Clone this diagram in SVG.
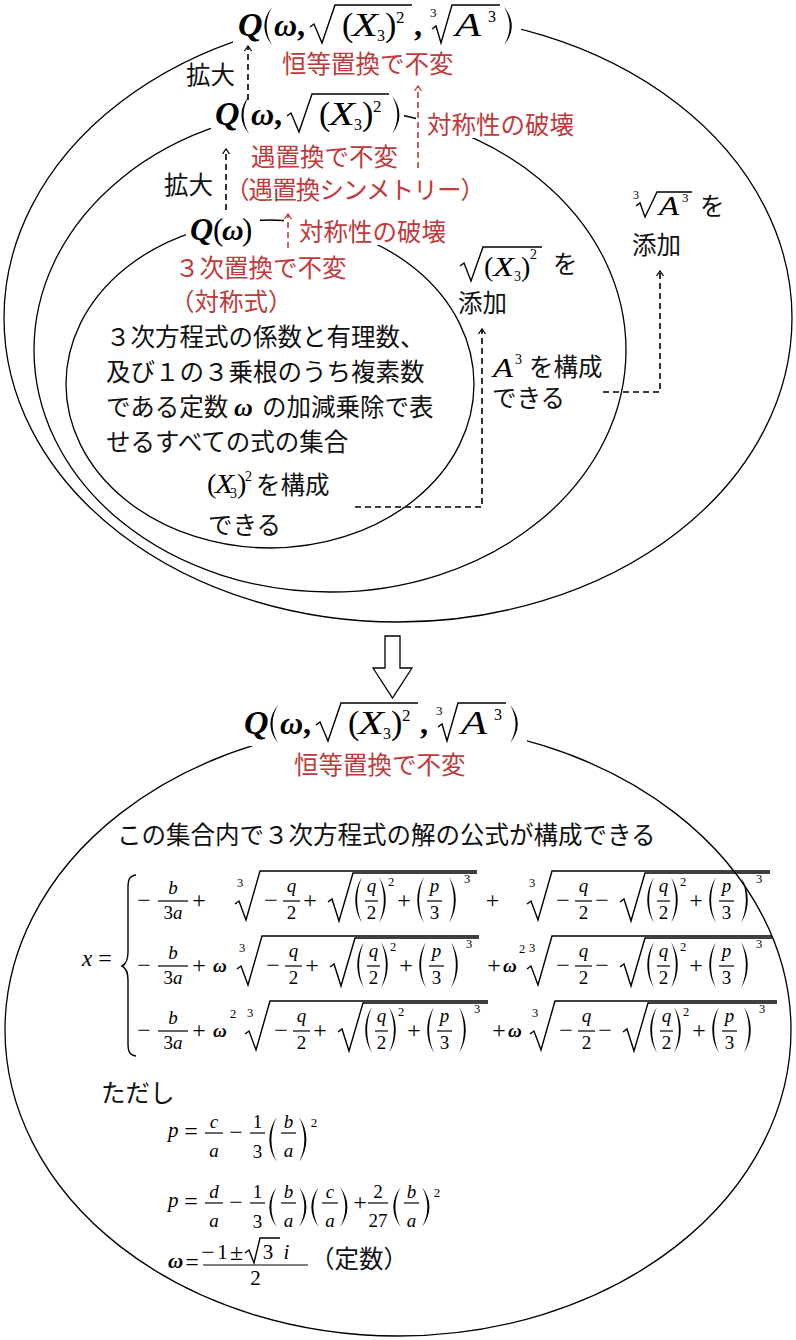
<svg xmlns="http://www.w3.org/2000/svg" width="796" height="1340" viewBox="0 0 796 1340">
<style>
.m{font-family:'Liberation Serif',serif;fill:#000}
.i{font-style:italic}
.b{font-weight:bold;font-style:italic}
.c{text-anchor:middle}
.j{font-family:'Liberation Sans','Noto Sans CJK JP',sans-serif;fill:#111;font-size:24.5px}
.r{fill:#c0393b}
.ln{fill:none;stroke:#000;stroke-width:1.4}
.bar{stroke:#000;stroke-width:1.2}
.ell{fill:none;stroke:#000;stroke-width:1.3}
.bg{fill:#fff}
.dk{fill:none;stroke:#000;stroke-width:1.6;stroke-dasharray:6 4}
.dr{fill:none;stroke:#c0393b;stroke-width:1.6;stroke-dasharray:6 4}
.f18{font-size:19px}
.op{font-size:24px}
.s11{font-size:12.5px}
.s12{font-size:13px}
</style>
<defs>
<path id="lp" d="M8,0 C-1,14 -1,32 8,46 C1.5,32 1.5,14 8,0Z" fill="#000"/>
<path id="rp" d="M0,0 C9,14 9,32 0,46 C6.5,32 6.5,14 0,0Z" fill="#000"/>
<marker id="ak" viewBox="-7 -5 8 10" refX="0" refY="0" markerWidth="8" markerHeight="10" markerUnits="userSpaceOnUse" orient="auto"><path d="M-5,-3.5 L0,0 L-5,3.5" fill="none" stroke="#000" stroke-width="1.3"/></marker>
<marker id="ar" viewBox="-7 -5 8 10" refX="0" refY="0" markerWidth="8" markerHeight="10" markerUnits="userSpaceOnUse" orient="auto"><path d="M-5,-3.5 L0,0 L-5,3.5" fill="none" stroke="#c0393b" stroke-width="1.3"/></marker>
</defs>
<rect width="796" height="1340" fill="#fff"/>

<g id="sets">
<ellipse class="ell" cx="398" cy="318" rx="394" ry="304"/>
<ellipse class="ell" cx="330" cy="350" rx="296" ry="242"/>
<ellipse class="ell" cx="270" cy="384" rx="204" ry="164"/>
<ellipse class="ell" cx="398" cy="1030" rx="393" ry="306"/>
</g>

<g id="n-field3">
<rect class="bg" x="233" y="0" width="288" height="48"/>
<text class="m b" x="238" y="36" font-size="34">Q</text>
<use href="#lp" transform="translate(263,7) scale(1.15,0.826)"/>
<text class="m b" x="274" y="36" font-size="32">ω</text>
<text class="m" font-weight="bold" x="297" y="36" font-size="32">,</text>
<path class="ln" d="M310,27 L314,24 L322,43 L335,5 H412"/>
<text class="m" x="342" y="36" font-size="34">(</text>
<text class="m i" x="352" y="36" font-size="34" textLength="26" lengthAdjust="spacingAndGlyphs">X</text>
<text class="m" x="377" y="41" font-size="16">3</text>
<text class="m" x="385" y="36" font-size="34">)</text>
<text class="m" x="396" y="23" font-size="17">2</text>
<text class="m" font-weight="bold" x="414" y="36" font-size="32">,</text>
<text class="m" x="430" y="17" font-size="13">3</text>
<path class="ln" d="M432,29 L436,26 L441,43 L452,5 H500"/>
<text class="m i" x="455" y="36" font-size="34" textLength="26" lengthAdjust="spacingAndGlyphs">A</text>
<text class="m" x="488" y="22" font-size="16">3</text>
<use href="#rp" transform="translate(504,7) scale(1.15,0.826)"/>
</g>

<g id="n-inv3">
<text class="j r" x="282" y="73">恒等置換で不変</text>
</g>
<g id="n-ext1"><text class="j" x="186" y="84" font-size="21">拡大</text></g>
<g id="n-break1">
<rect class="bg" x="416" y="111" width="162" height="27"/>
<text class="j r" x="427" y="134">対称性の破壊</text>
</g>

<g id="n-field2">
<rect class="bg" x="211" y="94" width="193" height="46"/>
<g transform="translate(-23,89)">
<text class="m b" x="238" y="36" font-size="34">Q</text>
<use href="#lp" transform="translate(263,7) scale(1.15,0.826)"/>
<text class="m b" x="274" y="36" font-size="32">ω</text>
<text class="m" font-weight="bold" x="297" y="36" font-size="32">,</text>
<path class="ln" d="M310,27 L314,24 L322,43 L335,5 H412"/>
<text class="m" x="342" y="36" font-size="34">(</text>
<text class="m i" x="352" y="36" font-size="34" textLength="26" lengthAdjust="spacingAndGlyphs">X</text>
<text class="m" x="377" y="41" font-size="16">3</text>
<text class="m" x="385" y="36" font-size="34">)</text>
<text class="m" x="396" y="23" font-size="17">2</text>
</g>
<use href="#rp" transform="translate(392,96) scale(1.1,0.826)"/>
</g>

<g id="n-inv2">
<text class="j r" x="251" y="166">遇置換で不変</text>
<text class="j r" x="225" y="199" textLength="260">（遇置換シンメトリー）</text>
</g>
<g id="n-ext2"><text class="j" x="164" y="194" font-size="22">拡大</text></g>

<g id="n-field1">
<rect class="bg" x="186" y="212" width="74" height="37"/>
<text class="m b" x="190" y="240" font-size="32">Q</text>
<text class="m" x="213" y="240" font-size="31">(</text>
<text class="m b" x="222" y="240" font-size="30">ω</text>
<text class="m" x="242" y="240" font-size="31">)</text>
</g>
<g id="n-break2">
<rect class="bg" x="284" y="206" width="165" height="39"/>
<text class="j r" x="299" y="241">対称性の破壊</text>
</g>
<g id="n-inv1">
<text class="j r" x="175" y="277">３次置換で不変</text>
<text class="j r" x="170" y="311">（対称式）</text>
</g>
<g id="n-desc">
<text class="j" x="106" y="346">３次方程式の係数と有理数、</text>
<text class="j" x="106" y="381">及び１の３乗根のうち複素数</text>
<text class="j" x="106" y="416">である定数<tspan class="m b" x="234" font-size="26">ω</tspan><tspan x="262">の加減乗除で表</tspan></text>
<text class="j" x="106" y="451">せるすべての式の集合</text>
</g>
<g id="n-x3sq">
<text class="m" x="207" y="493" font-size="28">(</text>
<text class="m i" x="215" y="493" font-size="28" textLength="19" lengthAdjust="spacingAndGlyphs">X</text>
<text class="m" x="230" y="498" font-size="14">3</text>
<text class="m" x="237" y="493" font-size="28">)</text>
<text class="m" x="245" y="481" font-size="14">2</text>
<text class="j" x="256" y="494">を構成</text>
<text class="j" x="208" y="534">できる</text>
</g>
<g id="n-adjsqrt">
<path class="ln" d="M460,266 L464,263 L471,281 L483,247 H542"/>
<text class="m" x="484" y="276" font-size="28">(</text>
<text class="m i" x="493" y="276" font-size="28" textLength="21" lengthAdjust="spacingAndGlyphs">X</text>
<text class="m" x="514" y="281" font-size="14">3</text>
<text class="m" x="521" y="276" font-size="28">)</text>
<text class="m" x="530" y="259" font-size="14">2</text>
<text class="j" x="553" y="273">を</text>
<text class="j" x="458" y="312">添加</text>
</g>
<g id="n-a3">
<text class="m i" x="493" y="377" font-size="28" textLength="20" lengthAdjust="spacingAndGlyphs">A</text>
<text class="m" x="515" y="364" font-size="14">3</text>
<text class="j" x="529" y="376">を構成</text>
<text class="j" x="492" y="407">できる</text>
</g>
<g id="n-adjcbrt">
<text class="m" x="633" y="199" font-size="12">3</text>
<path class="ln" d="M636,206 L640,203 L645,217 L657,192 H692"/>
<text class="m i" x="659" y="215" font-size="28" textLength="20" lengthAdjust="spacingAndGlyphs">A</text>
<text class="m" x="682" y="202" font-size="13">3</text>
<text class="j" x="700" y="215">を</text>
<text class="j" x="632" y="254">添加</text>
</g>

<g id="n-field3b">
<g transform="translate(6,698)">
<rect class="bg" x="233" y="0" width="288" height="48"/>
<text class="m b" x="238" y="36" font-size="34">Q</text>
<use href="#lp" transform="translate(263,7) scale(1.15,0.826)"/>
<text class="m b" x="274" y="36" font-size="32">ω</text>
<text class="m" font-weight="bold" x="297" y="36" font-size="32">,</text>
<path class="ln" d="M310,27 L314,24 L322,43 L335,5 H412"/>
<text class="m" x="342" y="36" font-size="34">(</text>
<text class="m i" x="352" y="36" font-size="34" textLength="26" lengthAdjust="spacingAndGlyphs">X</text>
<text class="m" x="377" y="41" font-size="16">3</text>
<text class="m" x="385" y="36" font-size="34">)</text>
<text class="m" x="396" y="23" font-size="17">2</text>
<text class="m" font-weight="bold" x="414" y="36" font-size="32">,</text>
<text class="m" x="430" y="17" font-size="13">3</text>
<path class="ln" d="M432,29 L436,26 L441,43 L452,5 H500"/>
<text class="m i" x="455" y="36" font-size="34" textLength="26" lengthAdjust="spacingAndGlyphs">A</text>
<text class="m" x="488" y="22" font-size="16">3</text>
<use href="#rp" transform="translate(504,7) scale(1.15,0.826)"/>
</g>
<text class="j r" x="294" y="774">恒等置換で不変</text>
</g>

<g id="n-formula">
<text class="j" x="117" y="844">この集合内で３次方程式の解の公式が構成できる</text>
<text class="m i" x="82" y="966" font-size="23">x</text>
<text class="m c" x="105" y="966" font-size="24">=</text>
<path class="ln" d="M136,875 C129,876 128,880 128,888 L128,952 C128,960 126,964 122,966 C126,968 128,972 128,980 L128,1043 C128,1051 129,1055 136,1056"/>

<!-- row 1 -->
<g transform="translate(0,901)">
<text class="m c op" x="144" y="7">−</text>
<text class="m i c f18" x="173" y="-7">b</text>
<line class="bar" x1="158" x2="188" y1="0" y2="0"/>
<text class="m c f18" x="173" y="18">3<tspan class="i">a</tspan></text>
<text class="m c op" x="199" y="7">+</text>
<text class="m c op" x="492.5" y="7">+</text>
</g>
<g transform="translate(235,901)">
<text class="m c s11" x="5" y="-14">3</text>
<path class="ln" d="M0,3 L4,0 L11,19 L25,-30 H242"/>
<text class="m c op" x="36" y="7">−</text>
<text class="m i c f18" x="56.5" y="-9">q</text>
<line class="bar" x1="48" x2="65" y1="0" y2="0"/>
<text class="m c f18" x="56.5" y="18">2</text>
<text class="m c op" x="75" y="7">+</text>
<path class="ln" d="M93,1 L97,-2 L104,20 L118,-28 H242"/>
<use href="#lp" x="119" y="-24"/>
<text class="m i c f18" x="136.5" y="-9">q</text>
<line class="bar" x1="130" x2="143" y1="0" y2="0"/>
<text class="m c f18" x="136.5" y="18">2</text>
<use href="#rp" x="144" y="-24"/>
<text class="m c s11" x="156" y="-15">2</text>
<text class="m c op" x="169" y="7">+</text>
<use href="#lp" x="181" y="-24"/>
<text class="m i c f18" x="199.5" y="-9">p</text>
<line class="bar" x1="192" x2="207" y1="0" y2="0"/>
<text class="m c f18" x="199.5" y="18">3</text>
<use href="#rp" x="214" y="-24"/>
<text class="m c s11" x="232" y="-18">3</text>
</g>
<g transform="translate(527,901)">
<text class="m c s11" x="5" y="-14">3</text>
<path class="ln" d="M0,3 L4,0 L11,19 L25,-30 H243"/>
<text class="m c op" x="36" y="7">−</text>
<text class="m i c f18" x="56.5" y="-9">q</text>
<line class="bar" x1="48" x2="65" y1="0" y2="0"/>
<text class="m c f18" x="56.5" y="18">2</text>
<text class="m c op" x="75" y="7">−</text>
<path class="ln" d="M93,1 L97,-2 L104,20 L118,-28 H243"/>
<use href="#lp" x="119" y="-24"/>
<text class="m i c f18" x="136.5" y="-9">q</text>
<line class="bar" x1="130" x2="143" y1="0" y2="0"/>
<text class="m c f18" x="136.5" y="18">2</text>
<use href="#rp" x="144" y="-24"/>
<text class="m c s11" x="156" y="-15">2</text>
<text class="m c op" x="169" y="7">+</text>
<use href="#lp" x="181" y="-24"/>
<text class="m i c f18" x="199.5" y="-9">p</text>
<line class="bar" x1="192" x2="207" y1="0" y2="0"/>
<text class="m c f18" x="199.5" y="18">3</text>
<use href="#rp" x="214" y="-24"/>
<text class="m c s11" x="232" y="-18">3</text>
</g>

<!-- row 2 -->
<g transform="translate(0,966)">
<text class="m c op" x="144" y="7">−</text>
<text class="m i c f18" x="173" y="-7">b</text>
<line class="bar" x1="158" x2="188" y1="0" y2="0"/>
<text class="m c f18" x="173" y="18">3<tspan class="i">a</tspan></text>
<text class="m c op" x="199" y="7">+</text>
<text class="m b f18" x="213" y="6">ω</text>
<text class="m c op" x="494" y="7">+</text>
<text class="m b f18" x="503" y="6">ω</text>
<text class="m c s11" x="522" y="-13">2</text>
</g>
<g transform="translate(237,966)">
<text class="m c s11" x="5" y="-14">3</text>
<path class="ln" d="M0,3 L4,0 L11,19 L25,-30 H242"/>
<text class="m c op" x="36" y="7">−</text>
<text class="m i c f18" x="56.5" y="-9">q</text>
<line class="bar" x1="48" x2="65" y1="0" y2="0"/>
<text class="m c f18" x="56.5" y="18">2</text>
<text class="m c op" x="75" y="7">+</text>
<path class="ln" d="M93,1 L97,-2 L104,20 L118,-28 H242"/>
<use href="#lp" x="119" y="-24"/>
<text class="m i c f18" x="136.5" y="-9">q</text>
<line class="bar" x1="130" x2="143" y1="0" y2="0"/>
<text class="m c f18" x="136.5" y="18">2</text>
<use href="#rp" x="144" y="-24"/>
<text class="m c s11" x="156" y="-15">2</text>
<text class="m c op" x="169" y="7">+</text>
<use href="#lp" x="181" y="-24"/>
<text class="m i c f18" x="199.5" y="-9">p</text>
<line class="bar" x1="192" x2="207" y1="0" y2="0"/>
<text class="m c f18" x="199.5" y="18">3</text>
<use href="#rp" x="214" y="-24"/>
<text class="m c s11" x="232" y="-18">3</text>
</g>
<g transform="translate(527,966)">
<text class="m c s11" x="5" y="-14">3</text>
<path class="ln" d="M0,3 L4,0 L11,19 L25,-30 H245"/>
<text class="m c op" x="36" y="7">−</text>
<text class="m i c f18" x="56.5" y="-9">q</text>
<line class="bar" x1="48" x2="65" y1="0" y2="0"/>
<text class="m c f18" x="56.5" y="18">2</text>
<text class="m c op" x="75" y="7">−</text>
<path class="ln" d="M93,1 L97,-2 L104,20 L118,-28 H245"/>
<use href="#lp" x="119" y="-24"/>
<text class="m i c f18" x="136.5" y="-9">q</text>
<line class="bar" x1="130" x2="143" y1="0" y2="0"/>
<text class="m c f18" x="136.5" y="18">2</text>
<use href="#rp" x="144" y="-24"/>
<text class="m c s11" x="156" y="-15">2</text>
<text class="m c op" x="169" y="7">+</text>
<use href="#lp" x="181" y="-24"/>
<text class="m i c f18" x="199.5" y="-9">p</text>
<line class="bar" x1="192" x2="207" y1="0" y2="0"/>
<text class="m c f18" x="199.5" y="18">3</text>
<use href="#rp" x="214" y="-24"/>
<text class="m c s11" x="232" y="-18">3</text>
</g>

<!-- row 3 -->
<g transform="translate(0,1031)">
<text class="m c op" x="144" y="7">−</text>
<text class="m i c f18" x="173" y="-7">b</text>
<line class="bar" x1="158" x2="188" y1="0" y2="0"/>
<text class="m c f18" x="173" y="18">3<tspan class="i">a</tspan></text>
<text class="m c op" x="199" y="7">+</text>
<text class="m b f18" x="213" y="6">ω</text>
<text class="m c s11" x="233" y="-13">2</text>
<text class="m c op" x="499" y="7">+</text>
<text class="m b f18" x="508" y="6">ω</text>
</g>
<g transform="translate(245,1031)">
<text class="m c s11" x="5" y="-14">3</text>
<path class="ln" d="M0,3 L4,0 L11,19 L25,-30 H243"/>
<text class="m c op" x="36" y="7">−</text>
<text class="m i c f18" x="56.5" y="-9">q</text>
<line class="bar" x1="48" x2="65" y1="0" y2="0"/>
<text class="m c f18" x="56.5" y="18">2</text>
<text class="m c op" x="75" y="7">+</text>
<path class="ln" d="M93,1 L97,-2 L104,20 L118,-28 H243"/>
<use href="#lp" x="119" y="-24"/>
<text class="m i c f18" x="136.5" y="-9">q</text>
<line class="bar" x1="130" x2="143" y1="0" y2="0"/>
<text class="m c f18" x="136.5" y="18">2</text>
<use href="#rp" x="144" y="-24"/>
<text class="m c s11" x="156" y="-15">2</text>
<text class="m c op" x="169" y="7">+</text>
<use href="#lp" x="181" y="-24"/>
<text class="m i c f18" x="199.5" y="-9">p</text>
<line class="bar" x1="192" x2="207" y1="0" y2="0"/>
<text class="m c f18" x="199.5" y="18">3</text>
<use href="#rp" x="214" y="-24"/>
<text class="m c s11" x="232" y="-18">3</text>
</g>
<g transform="translate(530,1031)">
<text class="m c s11" x="5" y="-14">3</text>
<path class="ln" d="M0,3 L4,0 L11,19 L25,-30 H247"/>
<text class="m c op" x="36" y="7">−</text>
<text class="m i c f18" x="56.5" y="-9">q</text>
<line class="bar" x1="48" x2="65" y1="0" y2="0"/>
<text class="m c f18" x="56.5" y="18">2</text>
<text class="m c op" x="75" y="7">−</text>
<path class="ln" d="M93,1 L97,-2 L104,20 L118,-28 H247"/>
<use href="#lp" x="119" y="-24"/>
<text class="m i c f18" x="136.5" y="-9">q</text>
<line class="bar" x1="130" x2="143" y1="0" y2="0"/>
<text class="m c f18" x="136.5" y="18">2</text>
<use href="#rp" x="144" y="-24"/>
<text class="m c s11" x="156" y="-15">2</text>
<text class="m c op" x="169" y="7">+</text>
<use href="#lp" x="181" y="-24"/>
<text class="m i c f18" x="199.5" y="-9">p</text>
<line class="bar" x1="192" x2="207" y1="0" y2="0"/>
<text class="m c f18" x="199.5" y="18">3</text>
<use href="#rp" x="214" y="-24"/>
<text class="m c s11" x="232" y="-18">3</text>
</g>
</g>

<g id="n-where">
<text class="j" x="101" y="1102">ただし</text>
<!-- p row 1 -->
<text class="m i" x="168" y="1137" font-size="21">p</text>
<text class="m c op" x="191" y="1139">=</text>
<text class="m i c f18" x="214" y="1128">c</text>
<line class="bar" x1="205" x2="223" y1="1133" y2="1133"/>
<text class="m i c f18" x="214" y="1157">a</text>
<text class="m c op" x="236" y="1140">−</text>
<text class="m c f18" x="257.5" y="1128">1</text>
<line class="bar" x1="250" x2="265" y1="1133" y2="1133"/>
<text class="m c f18" x="257.5" y="1158">3</text>
<use href="#lp" transform="translate(268,1117) scale(1.1,0.98)"/>
<text class="m i c f18" x="288.5" y="1128">b</text>
<line class="bar" x1="281" x2="296" y1="1133" y2="1133"/>
<text class="m i c f18" x="288.5" y="1157">a</text>
<use href="#rp" transform="translate(299,1117) scale(1.1,0.98)"/>
<text class="m c s12" x="314" y="1127">2</text>
<!-- p row 2 -->
<text class="m i" x="168" y="1207" font-size="21">p</text>
<text class="m c op" x="191" y="1209">=</text>
<text class="m i c f18" x="214" y="1198">d</text>
<line class="bar" x1="205" x2="223" y1="1203" y2="1203"/>
<text class="m i c f18" x="214" y="1227">a</text>
<text class="m c op" x="236" y="1210">−</text>
<text class="m c f18" x="257.5" y="1198">1</text>
<line class="bar" x1="250" x2="265" y1="1203" y2="1203"/>
<text class="m c f18" x="257.5" y="1228">3</text>
<use href="#lp" transform="translate(268,1187) scale(1.1,0.87)"/>
<text class="m i c f18" x="288.5" y="1198">b</text>
<line class="bar" x1="281" x2="296" y1="1203" y2="1203"/>
<text class="m i c f18" x="288.5" y="1227">a</text>
<use href="#rp" transform="translate(299,1187) scale(1.1,0.87)"/>
<use href="#lp" transform="translate(310,1187) scale(1.1,0.87)"/>
<text class="m i c f18" x="330" y="1198">c</text>
<line class="bar" x1="322" x2="338" y1="1203" y2="1203"/>
<text class="m i c f18" x="330" y="1227">a</text>
<use href="#rp" transform="translate(340,1187) scale(1.1,0.87)"/>
<text class="m c op" x="360" y="1210">+</text>
<text class="m c f18" x="378" y="1198">2</text>
<line class="bar" x1="368" x2="388" y1="1203" y2="1203"/>
<text class="m c f18" x="378" y="1227">27</text>
<use href="#lp" transform="translate(392,1187) scale(1.1,0.87)"/>
<text class="m i c f18" x="411.5" y="1198">b</text>
<line class="bar" x1="404" x2="419" y1="1203" y2="1203"/>
<text class="m i c f18" x="411.5" y="1227">a</text>
<use href="#rp" transform="translate(422,1187) scale(1.1,0.87)"/>
<text class="m c s12" x="437" y="1197">2</text>
<!-- omega row -->
<text class="m b" x="168" y="1268" font-size="21">ω</text>
<text class="m c op" x="192" y="1270">=</text>
<text class="m c op" x="208" y="1260">−</text>
<text class="m c" x="222.5" y="1259" font-size="21">1</text>
<text class="m c op" x="236.5" y="1260">±</text>
<path class="ln" d="M245,1253 L249,1250 L254,1263 L260,1238 H280"/>
<text class="m c" x="268" y="1259" font-size="21">3</text>
<text class="m i c" x="286.5" y="1259" font-size="21">i</text>
<line class="bar" x1="203" x2="308" y1="1265" y2="1265"/>
<text class="m c" x="255.5" y="1285" font-size="21">2</text>
<text class="j" x="310" y="1268" font-size="18">（定数）</text>
</g>

<g id="connectors">
<path class="dk" d="M248,100 V46" marker-end="url(#ak)"/>
<path class="dr" d="M418,168 V86" marker-end="url(#ar)"/>
<path class="dk" d="M226,210 V149" marker-end="url(#ak)"/>
<path class="dr" d="M288,248 V214" marker-end="url(#ar)"/>
<path class="dk" d="M355,507 H482 V329" marker-end="url(#ak)"/>
<path class="dk" d="M603,392 H660 V271" marker-end="url(#ak)"/>
<polygon points="385,636 400,636 400,668 412,668 392.5,698 373,668 385,668" fill="#fff" stroke="#000" stroke-width="1.3"/>
</g>
</svg>
